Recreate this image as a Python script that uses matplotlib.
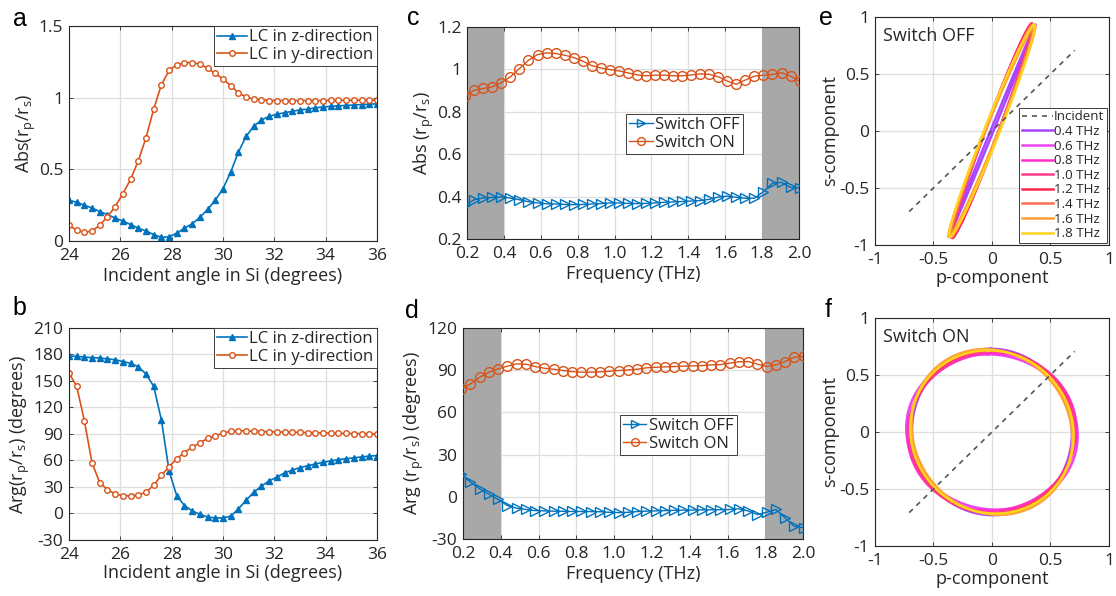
import numpy as np
import matplotlib
matplotlib.use('Agg')
import matplotlib.pyplot as plt
from matplotlib.ticker import FormatStrFormatter

plt.rcParams['font.family'] = ['Open Sans', 'DejaVu Sans']
plt.rcParams['mathtext.fontset'] = 'custom'
plt.rcParams['mathtext.rm'] = 'Open Sans'
plt.rcParams['mathtext.it'] = 'Open Sans:italic'
plt.rcParams['axes.unicode_minus'] = False

BLUE = '#0072BD'
ORANGE = '#D95319'
TXT = '#262626'
TICK_FS = 12.5
LABEL_FS = 13

# --- angle sweep (panels a, b) ---
angle = np.linspace(24, 36, 41)
abs_z = [0.285, 0.270, 0.250, 0.230, 0.205, 0.185, 0.160, 0.140, 0.115, 0.090,
         0.070, 0.045, 0.025, 0.030, 0.055, 0.090, 0.120, 0.165, 0.220, 0.285,
         0.365, 0.480, 0.620, 0.730, 0.800, 0.845, 0.870, 0.885, 0.895, 0.905,
         0.915, 0.920, 0.930, 0.935, 0.940, 0.943, 0.946, 0.949, 0.952, 0.955, 0.957]
abs_y = [0.110, 0.075, 0.060, 0.070, 0.110, 0.170, 0.240, 0.330, 0.430, 0.560,
         0.720, 0.920, 1.090, 1.190, 1.230, 1.245, 1.245, 1.235, 1.205, 1.170,
         1.130, 1.085, 1.035, 1.005, 0.990, 0.985, 0.980, 0.980, 0.980, 0.980,
         0.980, 0.980, 0.980, 0.980, 0.981, 0.981, 0.982, 0.982, 0.983, 0.983, 0.984]
arg_z = [178, 178, 177, 176.5, 176, 175, 174, 172, 170, 166,
         158, 144, 106, 48, 20, 9, 3, -1, -4, -5,
         -5, -3, 5, 15, 24, 31, 37, 41, 46, 49,
         52, 54, 56, 58, 59.5, 61, 62, 63, 64, 65, 65.5]
arg_y = [159, 144, 105, 57, 35, 27, 22, 20, 20, 21,
         24, 32, 43, 53, 62, 69, 75, 80, 85, 88,
         91, 93, 93.5, 93.5, 93, 92.8, 92.6, 92.4, 92.2, 92,
         91.8, 91.6, 91.4, 91.2, 91, 90.8, 90.6, 90.5, 90.4, 90.2, 90]

# --- frequency sweep (panels c, d) ---
freq = [0.190, 0.239, 0.288, 0.337, 0.386, 0.435, 0.484, 0.533, 0.582, 0.631,
        0.680, 0.729, 0.778, 0.827, 0.876, 0.925, 0.974, 1.023, 1.072, 1.121,
        1.170, 1.219, 1.268, 1.317, 1.366, 1.415, 1.464, 1.513, 1.562, 1.611,
        1.660, 1.709, 1.758, 1.807, 1.856, 1.905, 1.954, 2.003]
abs_off = [0.362, 0.385, 0.394, 0.396, 0.398, 0.393, 0.385, 0.376, 0.370, 0.366,
           0.365, 0.363, 0.362, 0.363, 0.365, 0.367, 0.370, 0.370, 0.368, 0.367,
           0.368, 0.370, 0.373, 0.375, 0.377, 0.379, 0.381, 0.387, 0.398, 0.402,
           0.397, 0.392, 0.392, 0.424, 0.463, 0.467, 0.443, 0.440]
abs_on = [0.875, 0.902, 0.910, 0.918, 0.937, 0.965, 1.004, 1.043, 1.070, 1.078,
          1.075, 1.067, 1.056, 1.039, 1.018, 1.007, 0.999, 0.993, 0.984, 0.974,
          0.970, 0.973, 0.973, 0.970, 0.970, 0.974, 0.979, 0.977, 0.965, 0.945,
          0.930, 0.950, 0.968, 0.973, 0.976, 0.984, 0.968, 0.944]
arg_off = [16, 10.5, 5.7, 1.9, -1.9, -6.2, -8.1, -9, -9.8, -10,
           -10.2, -10.3, -10.4, -10.4, -10.5, -10.6, -11, -11.2, -11, -10.5,
           -10.2, -10, -9.8, -9.6, -9.5, -9.4, -9.3, -9.2, -9.2, -9,
           -8.5, -10, -12.6, -11, -9, -15, -21, -22]
arg_on = [76.7, 80.2, 85, 88.6, 91, 92.9, 94.5, 94.3, 92.6, 91.4,
          90.7, 89.8, 89, 88.6, 88.6, 88.8, 89.3, 89.8, 90.2, 90.7,
          91.7, 92.1, 92.4, 92.6, 92.9, 93.1, 93.3, 93.8, 94, 95,
          96, 96.2, 94.3, 92.6, 93.8, 96.2, 99.3, 99.8]

# --- polarization states (panels e, f) ---
pol_freq = [0.4, 0.6, 0.8, 1.0, 1.2, 1.4, 1.6, 1.8]
pol_colors = ['#A846FF', '#EE44EE', '#FF2EC8', '#FF3C8C',
              '#FF2850', '#FF6E55', '#FFA032', '#FFD21E']
off_ratio = [0.398, 0.372, 0.364, 0.370, 0.369, 0.378, 0.400, 0.392]
off_phase = [-2, -9, -10, -10.5, -10, -9.5, -9, -11]
on_ratio = [0.937, 1.075, 1.045, 0.995, 0.972, 0.972, 0.945, 0.975]
on_phase = [91, 92.8, 88.6, 89.5, 91.6, 92.9, 95, 92.6]
incident = [-0.707, 0.707]


def style_axes(ax):
    ax.grid(True, color='#DEDEDE', lw=0.9)
    ax.set_axisbelow(True)
    ax.tick_params(direction='in', length=3, width=0.6, top=True, right=True,
                   labelsize=TICK_FS, colors=TXT, pad=4)
    ax.tick_params(axis='x', pad=5)
    for sp in ax.spines.values():
        sp.set_linewidth(0.8)
        sp.set_color(TXT)


def legend(ax, **kw):
    leg = ax.legend(fancybox=False, framealpha=1, edgecolor='#3C3C3C',
                    fontsize=12, handletextpad=0.15, borderpad=0.2,
                    labelspacing=0.1, **kw)
    leg.get_frame().set_linewidth(0.7)
    for t in leg.get_texts():
        t.set_color(TXT)
    return leg


fig = plt.figure(figsize=(11.16, 5.96), dpi=100)

ax_a = fig.add_axes([0.0618, 0.5956, 0.276, 0.3607])
ax_b = fig.add_axes([0.0618, 0.0940, 0.276, 0.3557])
ax_c = fig.add_axes([0.4185, 0.5990, 0.2975, 0.3557])
ax_d = fig.add_axes([0.4149, 0.0956, 0.3047, 0.3540])
ax_e = fig.add_axes([0.7840, 0.5890, 0.2097, 0.3826])
ax_f = fig.add_axes([0.7840, 0.0839, 0.2097, 0.3826])

# a: magnitude vs angle
for ax in (ax_a, ax_b):
    style_axes(ax)
ax_a.plot(angle, abs_z, '-^', color=BLUE, lw=1.2, ms=5, label='LC in z-direction')
ax_a.plot(angle, abs_y, '-o', color=ORANGE, lw=1.2, ms=4, mfc='white', mew=1,
          label='LC in y-direction')
ax_a.set_xlim(24, 36)
ax_a.set_ylim(0, 1.5)
ax_a.set_xticks(range(24, 37, 2))
ax_a.set_yticks([0, 0.5, 1, 1.5])
ax_a.yaxis.set_major_formatter(FormatStrFormatter('%g'))
ax_a.set_xlabel('Incident angle in Si (degrees)', fontsize=LABEL_FS, color=TXT, labelpad=2)
ax_a.set_ylabel('Abs(r$_\\mathregular{p}$/r$_\\mathregular{s}$)', fontsize=LABEL_FS,
                color=TXT, labelpad=1)
legend(ax_a, loc='upper right', borderaxespad=0, handlelength=1.8)

# b: phase vs angle
ax_b.plot(angle, arg_z, '-^', color=BLUE, lw=1.2, ms=5, label='LC in z-direction')
ax_b.plot(angle, arg_y, '-o', color=ORANGE, lw=1.2, ms=4, mfc='white', mew=1,
          label='LC in y-direction')
ax_b.set_xlim(24, 36)
ax_b.set_ylim(-30, 210)
ax_b.set_xticks(range(24, 37, 2))
ax_b.set_yticks(range(-30, 211, 30))
ax_b.set_xlabel('Incident angle in Si (degrees)', fontsize=LABEL_FS, color=TXT, labelpad=1)
ax_b.set_ylabel('Arg(r$_\\mathregular{p}$/r$_\\mathregular{s}$) (degrees)', fontsize=LABEL_FS,
                color=TXT, labelpad=1)
legend(ax_b, loc='upper right', borderaxespad=0, handlelength=1.8)

# c, d: measured spectra with out-of-band regions shaded
for ax in (ax_c, ax_d):
    style_axes(ax)
    ax.axvspan(0.2, 0.4, color='#A8A8A8', zorder=1.5, lw=0)
    ax.axvspan(1.8, 2.0, color='#A8A8A8', zorder=1.5, lw=0)
    ax.set_xlim(0.2, 2.0)
    ax.set_xticks(np.round(np.arange(0.2, 2.01, 0.2), 1))
    ax.xaxis.set_major_formatter(FormatStrFormatter('%.1f'))
    ax.set_xlabel('Frequency (THz)', fontsize=LABEL_FS, color=TXT, labelpad=2)

ax_c.plot(freq, abs_off, '->', color=BLUE, lw=1, ms=7, mfc='none', mew=1,
          label='Switch OFF', zorder=3)
ax_c.plot(freq, abs_on, '-o', color=ORANGE, lw=1, ms=7, mfc='none', mew=1,
          label='Switch ON', zorder=3)
ax_c.set_ylim(0.2, 1.2)
ax_c.set_yticks([0.2, 0.4, 0.6, 0.8, 1, 1.2])
ax_c.yaxis.set_major_formatter(FormatStrFormatter('%g'))
ax_c.set_ylabel('Abs (r$_\\mathregular{p}$/r$_\\mathregular{s}$)', fontsize=LABEL_FS,
                color=TXT, labelpad=1)
legend(ax_c, loc='center', bbox_to_anchor=(0.655, 0.495), handlelength=1.4,
       markerscale=0.8)

ax_d.plot(freq, arg_off, '->', color=BLUE, lw=1, ms=7, mfc='none', mew=1,
          label='Switch OFF', zorder=3)
ax_d.plot(freq, arg_on, '-o', color=ORANGE, lw=1, ms=7, mfc='none', mew=1,
          label='Switch ON', zorder=3)
ax_d.set_ylim(-30, 120)
ax_d.set_yticks(range(-30, 121, 30))
ax_d.set_ylabel('Arg (r$_\\mathregular{p}$/r$_\\mathregular{s}$) (degrees)', fontsize=LABEL_FS,
                color=TXT, labelpad=1)
legend(ax_d, loc='center', bbox_to_anchor=(0.633, 0.493), handlelength=1.4,
       markerscale=0.8)

# e, f: polarization ellipses for 45-degree incident light
t = np.linspace(0, 2 * np.pi, 361)
for ax, ratios, phases, title in ((ax_e, off_ratio, off_phase, 'Switch OFF'),
                                  (ax_f, on_ratio, on_phase, 'Switch ON')):
    style_axes(ax)
    ax.plot(incident, incident, '--', color='#555555', lw=1.2, dashes=(3, 3),
            label='Incident', zorder=4)
    for f, c, r, ph in zip(pol_freq, pol_colors, ratios, phases):
        a_s = 1 / np.sqrt(1 + r ** 2)
        a_p = r * a_s
        ax.plot(a_p * np.cos(t + np.deg2rad(ph)), a_s * np.cos(t), color=c, lw=1.8,
                label=f'{f:.1f} THz', zorder=3)
    ax.set_xlim(-1, 1)
    ax.set_ylim(-1, 1)
    ax.set_xticks([-1, -0.5, 0, 0.5, 1])
    ax.set_yticks([-1, -0.5, 0, 0.5, 1])
    ax.xaxis.set_major_formatter(FormatStrFormatter('%g'))
    ax.yaxis.set_major_formatter(FormatStrFormatter('%g'))
    ax.set_xlabel('p-component', fontsize=LABEL_FS, color=TXT, labelpad=1)
    ax.set_ylabel('s-component', fontsize=LABEL_FS, color=TXT, labelpad=0)
    ax.text(0.035, 0.915, title, transform=ax.transAxes, fontsize=13, color=TXT,
            va='center', ha='left')

leg_e = ax_e.legend(loc='lower right', fancybox=False, framealpha=1, edgecolor='#3C3C3C',
                    fontsize=9.6, handlelength=2.3, handletextpad=0.1, borderpad=0.2,
                    labelspacing=0.12, borderaxespad=0.15)
leg_e.get_frame().set_linewidth(0.7)
for txt in leg_e.get_texts():
    txt.set_color(TXT)

# panel letters
for x, y, s in ((0.0116, 0.956, 'a'), (0.0116, 0.4715, 'b'), (0.3647, 0.958, 'c'),
                (0.363, 0.466, 'd'), (0.734, 0.958, 'e'), (0.739, 0.468, 'f')):
    fig.text(x, y, s, fontsize=18, family=['Liberation Sans', 'DejaVu Sans'],
             color='black', va='baseline', ha='left')

fig.savefig('out.png', dpi=100)
